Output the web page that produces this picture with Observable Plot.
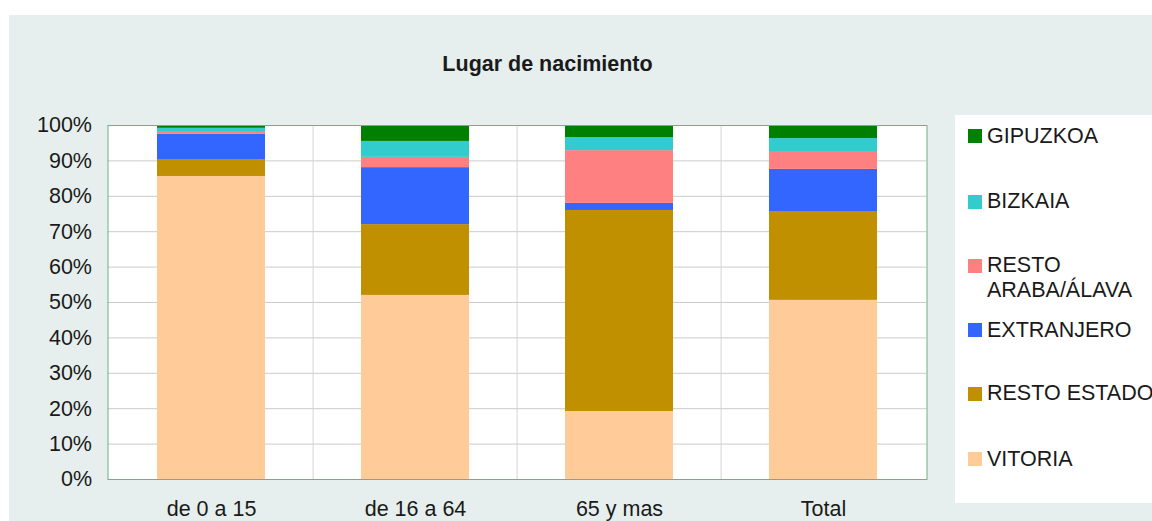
<!DOCTYPE html>
<html>
<head>
<meta charset="utf-8">
<script src="https://cdn.jsdelivr.net/npm/d3@7"></script>
<script src="https://cdn.jsdelivr.net/npm/@observablehq/plot@0.6"></script>
<style>
  html, body { margin: 0; padding: 0; background: #ffffff; }
  #wrap { position: relative; width: 1152px; height: 521px; overflow: hidden; font-family: "Liberation Sans", Arial, sans-serif; color: #1a1a1a; }
  #bg { position: absolute; left: 9px; top: 15px; width: 1143px; height: 506px; background: #E6EFED; }
  #chart { position: absolute; left: 0; top: 0; }
  #title { position: absolute; left: 347.5px; top: 54px; width: 400px; text-align: center; font-weight: bold; font-size: 21.5px; line-height: 21px; }
  #legend { position: absolute; left: 955px; top: 115px; width: 260px; height: 388px; background: #ffffff; }
  .lg-sw { position: absolute; width: 14px; height: 14px; }
  .lg-tx { position: absolute; font-size: 21.5px; line-height: 24.4px; white-space: nowrap; }
</style>
</head>
<body>
<div id="wrap">
  <div id="bg"></div>
  <div id="chart"></div>
  <div id="title">Lugar de nacimiento</div>
  <div id="legend"></div>
</div>
<script>
// Categories (x axis)
const categories = ["de 0 a 15", "de 16 a 64", "65 y mas", "Total"];
// Series, bottom to top in the stack
const seriesNames = ["VITORIA", "RESTO ESTADO", "EXTRANJERO", "RESTO ARABA/ÁLAVA", "BIZKAIA", "GIPUZKOA"];
const seriesColors = ["#FFCC99", "#C09000", "#3366FF", "#FF8080", "#33CCCC", "#008000"];
// Percentages per series, one value per category
const vitoria      = [85.6, 52.0, 19.2, 50.6];
const restoEstado  = [4.8, 20.0, 56.8, 25.1];
const extranjero   = [7.1, 16.1, 2.0, 11.9];
const restoAraba   = [0.8, 2.9, 14.9, 4.8];
const bizkaia      = [0.9, 4.5, 3.7, 3.9];
const gipuzkoa     = [0.8, 4.5, 3.4, 3.7];
// Y tick values
const yTicks = [0, 10, 20, 30, 40, 50, 60, 70, 80, 90, 100];

const seriesValues = [vitoria, restoEstado, extranjero, restoAraba, bizkaia, gipuzkoa];
const data = [];
seriesNames.forEach((s, si) => {
  categories.forEach((c, ci) => data.push({cat: c, serie: s, value: seriesValues[si][ci]}));
});

const W = 1152, H = 521;
const mL = 107.5, mR = 225.5, mT = 125, mB = 42;
const pIn = 0.472;
const step = (W - mL - mR) / categories.length;

const plot = Plot.plot({
  width: W,
  height: H,
  marginLeft: mL,
  marginRight: mR,
  marginTop: mT,
  marginBottom: mB,
  style: {background: "transparent", fontFamily: "'Liberation Sans', Arial, sans-serif", fontSize: "21.5px", color: "#1a1a1a"},
  x: {domain: categories, paddingInner: pIn, paddingOuter: pIn / 2, label: null},
  y: {domain: [0, 100], label: null},
  color: {domain: seriesNames, range: seriesColors},
  marks: [
    Plot.frame({fill: "white", stroke: null}),
    Plot.ruleY(yTicks.slice(1, -1), {stroke: "#CBCBCB", strokeWidth: 1}),
    Plot.ruleX(categories.slice(1), {x: d => d, dx: -step / 2, stroke: "#D4D4D4", strokeWidth: 1}),
    Plot.barY(data, Plot.stackY({x: "cat", y: "value", fill: "serie", order: seriesNames})),
    Plot.frame({stroke: "#6DB08A", strokeWidth: 1}),
    Plot.axisY({ticks: yTicks, tickFormat: d => d + "%", tickSize: 0, tickPadding: 16, fontSize: 21.5}),
    Plot.axisX({tickSize: 0, tickPadding: 21.5, fontSize: 21.5})
  ]
});
document.getElementById("chart").appendChild(plot);

// Legend (top to bottom: reverse stack order)
const legend = document.getElementById("legend");
const baselines = [143.3, 209, 273, 337.7, 401, 466.7];
const legendItems = [
  {name: "GIPUZKOA", lines: ["GIPUZKOA"]},
  {name: "BIZKAIA", lines: ["BIZKAIA"]},
  {name: "RESTO ARABA/ÁLAVA", lines: ["RESTO", "ARABA/ÁLAVA"]},
  {name: "EXTRANJERO", lines: ["EXTRANJERO"]},
  {name: "RESTO ESTADO", lines: ["RESTO ESTADO"]},
  {name: "VITORIA", lines: ["VITORIA"]}
];
const legTop = 115, legLeft = 955;
legendItems.forEach((it, i) => {
  const b = baselines[i];
  const sw = document.createElement("div");
  sw.className = "lg-sw";
  sw.style.left = (968 - legLeft) + "px";
  sw.style.top = (b - 14.3 - legTop) + "px";
  sw.style.background = seriesColors[seriesNames.indexOf(it.name)];
  legend.appendChild(sw);
  const tx = document.createElement("div");
  tx.className = "lg-tx";
  tx.style.left = (987 - legLeft) + "px";
  tx.style.top = (b - 19.7 - legTop) + "px";
  tx.innerHTML = it.lines.join("<br>");
  legend.appendChild(tx);
});
</script>
</body>
</html>
